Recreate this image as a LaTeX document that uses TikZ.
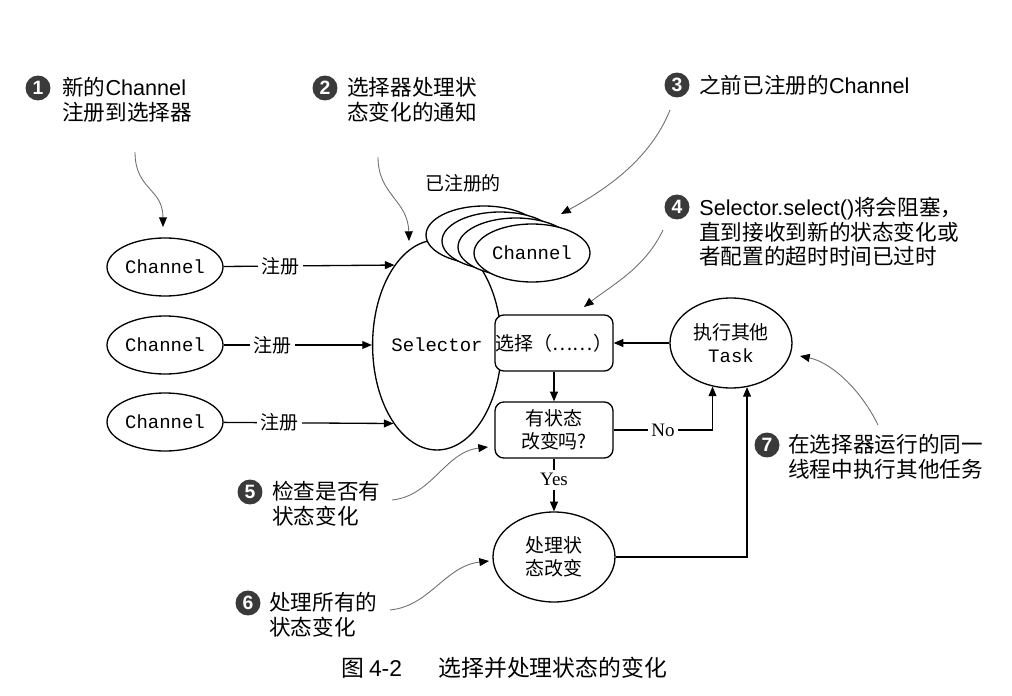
\documentclass[tikz,border=0pt]{standalone}
\usepackage{fontspec}
\setmainfont{Liberation Serif}
\setmonofont{Liberation Mono}
\newfontfamily\zh{Noto Sans CJK SC}
\newfontfamily\en{Liberation Sans}
\usetikzlibrary{arrows.meta,positioning,shapes.geometric}
\definecolor{numgray}{RGB}{58,58,58}
\definecolor{pointer}{RGB}{110,110,110}
\newcommand{\dfont}{\fontsize{10.8pt}{13pt}\selectfont}
\newcommand{\nfont}{\fontsize{12.3pt}{14pt}\selectfont}

\begin{document}
\begin{tikzpicture}[
      x=0.02cm, y=-0.02cm,
      >={Triangle[length=5.5pt,width=4.5pt]},
      chan/.style={draw, ellipse, fill=white, line width=0.75pt, inner sep=0pt,
                   minimum width=2.32cm, minimum height=1.16cm,
                   font=\ttfamily\dfont},
      sel/.style={draw, ellipse, fill=white, line width=0.75pt, inner sep=0pt,
                  minimum width=2.48cm, minimum height=4.2cm, font=\ttfamily\dfont},
      stepbox/.style={draw, rounded corners=5pt, fill=white, line width=0.75pt,
                      align=center, minimum width=2.36cm, minimum height=1.12cm,
                      inner sep=0pt, font=\zh\dfont},
      oval/.style={draw, ellipse, fill=white, line width=0.75pt, align=center,
                   minimum width=2.44cm, minimum height=1.8cm, inner sep=0pt,
                   font=\zh\dfont},
      flow/.style={->, line width=0.75pt},
      lab/.style={fill=white, inner sep=2pt, font=\zh\dfont},
      num/.style={circle, fill=numgray, text=white, inner sep=0pt,
                  minimum size=0.5cm, font=\en\bfseries\fontsize{11pt}{11pt}\selectfont},
      note/.style={anchor=west, align=left, inner sep=0pt, font=\zh\nfont},
      ptr/.style={draw=pointer, line width=0.5pt,
                  -{Triangle[length=5.5pt,width=4.5pt,color=black]}}
    ]
    \useasboundingbox (0,0) rectangle (1012,696);

    % selector and the channels
    \node[sel] (sel) at (437,345) {Selector};
    \node[chan] (ch1) at (165,267) {Channel};
    \node[chan] (ch2) at (165,345) {Channel};
    \node[chan] (ch3) at (165,422) {Channel};

    \node[font=\zh\dfont] (regd) at (463,183) {已注册的};
    \node[chan] (reg1) at (484,235) {};
    \node[chan] (reg2) at (500,241) {};
    \node[chan] (reg3) at (516,247) {};
    \node[chan] (reg4) at (532,253) {Channel};

    % select loop
    \node[stepbox] (select) at (554,343) {选择（……）};
    \node[stepbox] (check)  at (554,430) {有状态\\改变吗?};
    \node[oval]    (proc)   at (554,557) {处理状\\态改变};
    \node[oval]    (task)   at (731,343) {执行其他\\{\ttfamily Task}};

    \draw[flow] (ch1) -- node[lab, pos=0.33]{注册} (sel.118);
    \draw[flow] (ch2) -- node[lab, pos=0.33]{注册} (sel);
    \draw[flow] (ch3) -- node[lab, pos=0.33]{注册} (sel.241);

    \draw[flow] (task) -- (select);
    \draw[flow] (select) -- (check);
    \draw[flow] (check) -- node[lab, pos=0.4, font=\rmfamily\dfont]{Yes} (proc);
    \draw[flow] (check.east) -| node[lab, pos=0.25, font=\rmfamily\dfont]{No} (task.247);
    \draw[flow] (proc.east) -| (task.290);

    % numbered notes
    \node[num] (n1) at (38,88) {1};
    \node[note] (t1) at (62,100) {新的{\en Channel}\\注册到选择器};
    \node[num] (n2) at (325,88) {2};
    \node[note] (t2) at (347,100) {选择器处理状\\态变化的通知};
    \node[num] (n3) at (677,85) {3};
    \node[note] (t3) at (699,85) {之前已注册的{\en Channel}};
    \node[num] (n4) at (677,207) {4};
    \node[note] (t4) at (699,232) {{\en Selector.select()}将会阻塞，\\直到接收到新的状态变化或\\者配置的超时时间已过时};
    \node[num] (n5) at (250,492) {5};
    \node[note] (t5) at (272,504) {检查是否有\\状态变化};
    \node[num] (n6) at (248,603) {6};
    \node[note] (t6) at (269,615) {处理所有的\\状态变化};
    \node[num] (n7) at (767,445) {7};
    \node[note] (t7) at (788,457) {在选择器运行的同一\\线程中执行其他任务};

    % pointers from the notes
    \coordinate (p1a) at (135,152); \coordinate (p1b) at (163,227);
    \coordinate (p2a) at (378,157); \coordinate (p2b) at (409,241);
    \coordinate (p3a) at (670,110); \coordinate (p3b) at (561,214);
    \coordinate (p4a) at (663,230); \coordinate (p4b) at (584,307);
    \coordinate (p5a) at (392,500); \coordinate (p5b) at (488,447);
    \coordinate (p6a) at (390,610); \coordinate (p6b) at (489,561);
    \coordinate (p7a) at (878,425); \coordinate (p7b) at (800,356);
    \draw[ptr] (p1a) .. controls (135,190) and (163,188) .. (p1b);
    \draw[ptr] (p2a) .. controls (378,195) and (408,200) .. (p2b);
    \draw[ptr] (p3a) .. controls (650,160) and (605,190) .. (p3b);
    \draw[ptr] (p4a) .. controls (645,268) and (612,285) .. (p4b);
    \draw[ptr] (p5a) .. controls (432,496) and (445,452) .. (p5b);
    \draw[ptr] (p6a) .. controls (430,606) and (445,566) .. (p6b);
    \draw[ptr] (p7a) .. controls (860,388) and (830,362) .. (p7b);

    \node[font=\zh\fontsize{13pt}{15pt}\selectfont] (cap) at (504,668)
      {图 {\en 4-2}\hspace{1.6em}选择并处理状态的变化};
  \end{tikzpicture}
\end{document}
